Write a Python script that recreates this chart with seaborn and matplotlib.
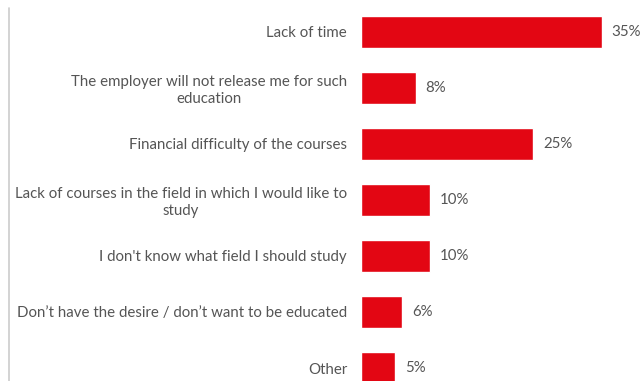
import matplotlib
matplotlib.use("Agg")
import matplotlib.pyplot as plt
from matplotlib.lines import Line2D
import seaborn as sns
import pandas as pd

reasons = [
    "Lack of time",
    "The employer will not release me for such\neducation",
    "Financial difficulty of the courses",
    "Lack of courses in the field in which I would like to\nstudy",
    "I don't know what field I should study",
    "Don\u2019t have the desire / don\u2019t want to be educated",
    "Other",
]
shares = [35, 8, 25, 10, 10, 6, 5]
value_labels = ["35%", "8%", "25%", "10%", "10%", "6%", "5%"]

df = pd.DataFrame({"reason": reasons, "share": shares})

sns.set_theme(style="white")
plt.rcParams["font.family"] = ["Lato", "DejaVu Sans"]

W, H = 641, 381
fig = plt.figure(figsize=(W / 100, H / 100), dpi=100)
ax = fig.add_axes([361 / W, 0, (W - 361) / W, 1])

bar_h = 32 / 56
sns.barplot(data=df, x="share", y="reason", orient="h", color="#E30613",
            saturation=1, width=bar_h, ax=ax)

ax.set_xlim(0, 40.65)
ax.set_ylim((381 - 32) / 56, -32 / 56)

text_color = "#555555"
for i, (v, lab) in enumerate(zip(shares, value_labels)):
    ax.text(v + 1.4, i, lab, va="center", ha="left", fontsize=10.8, color=text_color)

ax.set_xlabel("")
ax.set_ylabel("")
ax.set_xticks([])
ax.tick_params(axis="y", length=0, pad=10, labelsize=10.8, labelcolor=text_color)
for t in ax.get_yticklabels():
    t.set_multialignment("center")
    t.set_linespacing(1.2)
for s in ax.spines.values():
    s.set_visible(False)

fig.add_artist(Line2D([8.5 / W, 8.5 / W], [0, 1 - 8 / H], color="#cccccc", lw=1.2))

fig.savefig("out.png", dpi=100)
